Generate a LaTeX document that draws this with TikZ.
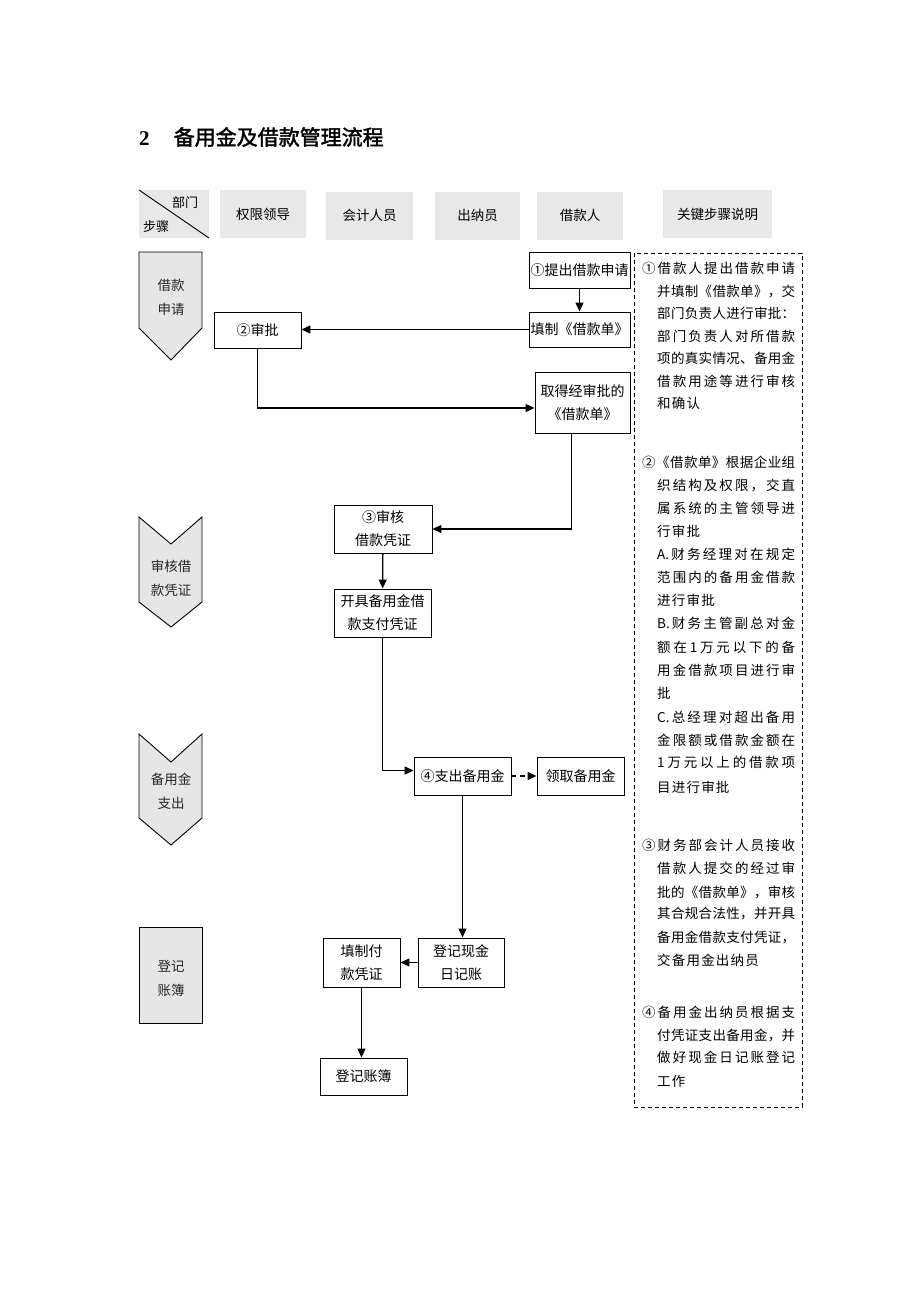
\documentclass[tikz,border=0pt]{standalone}
\usepackage{fontspec}
\setmainfont{Noto Sans CJK SC}
\newfontfamily\titlefont{Noto Sans CJK SC}[FakeBold=2]
\newfontfamily\numfont{Liberation Serif}
\usetikzlibrary{arrows.meta,positioning}

\definecolor{headgray}{HTML}{E8E8E8}
\definecolor{stagegray}{HTML}{E6E6E6}

% one line of the notes, spread over a given width
\def\jlnext#1#2\relax{#1\if\relax\detokenize{#2}\relax\else\jlsep\jlnext#2\relax\fi}
\newcommand\jline[2]{\makebox[#1][s]{\def\jlsep{\hfill}\expandafter\jlnext#2\relax}}
\newcommand\kline[1]{{\def\jlsep{\kern1.2pt}\expandafter\jlnext#1\relax}}

\begin{document}
\begin{tikzpicture}[x=1pt,y=-1pt,
    head/.style={fill=headgray,minimum width=#1,minimum height=48pt,inner sep=0pt,
      font=\fontsize{13.5}{16}\selectfont},
    box/.style={draw,line width=0.9pt,align=center,inner sep=0pt,
      font=\fontsize{14}{23}\selectfont},
    stage/.style={fill=stagegray,draw,line width=0.9pt},
    stagetxt/.style={align=center,inner sep=0pt,text=black!85,
      font=\fontsize{13.5}{24}\selectfont},
    note/.style={anchor=west,inner sep=0pt,font=\fontsize{13.5}{16}\selectfont},
    arr/.style={line width=1.3pt,-{Triangle[length=9pt,width=8pt]}}]
  \useasboundingbox (0,0) rectangle (920,1302);

  \node[anchor=west,inner sep=0pt] (title) at (139,137)
    {\fontsize{21}{24}\selectfont{\numfont\bfseries 2}\hspace{24pt}\titlefont 备用金及借款管理流程};

  % header row
  \fill[headgray] (139,190) rectangle (209,238);
  \draw[line width=0.9pt] (139,190) -- (209,238);
  \node[inner sep=0pt,font=\fontsize{13}{16}\selectfont] (dept) at (185,203) {部门};
  \node[inner sep=0pt,font=\fontsize{13}{16}\selectfont] (steps) at (156,227) {步骤};
  \node[head=86pt] (lead) at (263,214) {权限领导};
  \node[head=87pt] (acct) at (369.5,215.5) {会计人员};
  \node[head=85pt] (cash) at (477.5,215.5) {出纳员};
  \node[head=86pt] (borr) at (580,215.5) {借款人};
  \node[head=109pt] (keys) at (717.5,214) {关键步骤说明};

  % stages
  \filldraw[stage] (139,252) -- (202,252) -- (202,328) -- (171,360) -- (139,328) -- cycle;
  \node[stagetxt] (st1) at (171,297) {借款\\申请};
  \filldraw[stage] (139,517) -- (171,544) -- (202,517) -- (202,602) -- (171,627) -- (139,602) -- cycle;
  \node[stagetxt] (st2) at (171,578.5) {审核借\\款凭证};
  \filldraw[stage] (139,734) -- (171,762) -- (202,734) -- (202,818) -- (171,845) -- (139,818) -- cycle;
  \node[stagetxt] (st3) at (171,791.5) {备用金\\支出};
  \filldraw[stage] (139,927) rectangle (202,1023);
  \node[stagetxt] (st4) at (171,978.5) {登记\\账簿};

  % flow
  \node[box,minimum width=101pt,minimum height=36pt] (tq) at (579.5,270) {①提出借款申请};
  \node[box,minimum width=101pt,minimum height=35pt] (tz) at (579.5,329.5) {填制《借款单》};
  \node[box,minimum width=87pt,minimum height=36pt] (sp) at (257.5,330) {②审批};
  \node[box,minimum width=95pt,minimum height=61pt] (qd) at (582.5,402.5) {取得经审批的\\《借款单》};
  \node[box,minimum width=98pt,minimum height=48pt] (sh) at (383,529) {③审核\\借款凭证};
  \node[box,minimum width=97pt,minimum height=48pt] (kj) at (382.5,613) {开具备用金借\\款支付凭证};
  \node[box,minimum width=97pt,minimum height=38pt] (zc) at (462.5,776) {④支出备用金};
  \node[box,minimum width=87pt,minimum height=38pt] (lq) at (580.5,776) {领取备用金};
  \node[box,minimum width=86pt,minimum height=49pt] (dj) at (461,962.5) {登记现金\\日记账};
  \node[box,minimum width=77pt,minimum height=49pt] (tf) at (361.5,962.5) {填制付\\款凭证};
  \node[box,minimum width=87pt,minimum height=37pt] (zb) at (363.5,1076.5) {登记账簿};

  \draw[arr] (tq) -- (tz);
  \draw[arr] (tz.west) -- (tz.west -| sp.east);
  \draw[arr] (sp) |- ([yshift=-5.5pt]qd.west);
  \draw[arr] ([xshift=-11pt]qd.south) |- (sh);
  \draw[arr] (sh) -- (kj);
  \draw[arr] (kj) |- ([yshift=5.5pt]zc.west);
  \draw[arr,dash pattern=on 5pt off 4pt] (zc) -- (lq);
  \draw[arr] (zc.south) -- (zc.south |- dj.north);
  \draw[arr] (dj) -- (tf);
  \draw[arr] (tf) -- (tf |- zb.north);

  % notes
  \draw[line width=0.8pt,dash pattern=on 4pt off 3pt] (634,253) rectangle (802,1107);
  \foreach \x/\y/\txt [count=\i] in {
      642/268/①借款人提出借款申请, 657/291/并填制《借款单》，交,
      657/313/部门负责人进行审批：, 657/336/部门负责人对所借款,
      657/358/项的真实情况、备用金, 657/381/借款用途等进行审核,
      642/462/②《借款单》根据企业组, 657/485/织结构及权限，交直,
      657/508/属系统的主管领导进, 657/554/{A.}财务经理对在规定,
      657/577/范围内的备用金借款, 657/623/{B.}财务主管副总对金,
      657/647/额在{1}万元以下的备, 657/670/用金借款项目进行审,
      657/717/{C.}总经理对超出备用, 657/740/金限额或借款金额在,
      657/762/{1}万元以上的借款项,
      642/845/③财务部会计人员接收, 657/868/借款人提交的经过审,
      657/892/批的《借款单》，审核, 657/914/其合规合法性，并开具,
      657/937/备用金借款支付凭证，,
      642/1012/④备用金出纳员根据支, 657/1035/付凭证支出备用金，并,
      657/1057/做好现金日记账登记}
    \node[note] (full\i) at (\x,\y) {\jline{\dimexpr795pt-\x pt\relax}{\txt}};
  \foreach \y/\txt [count=\i] in {403/和确认, 531/行审批, 600/进行审批, 693/批,
      787/目进行审批, 960/交备用金出纳员, 1081/工作}
    \node[note] (tail\i) at (657,\y) {\kline{\txt}};
\end{tikzpicture}
\end{document}
